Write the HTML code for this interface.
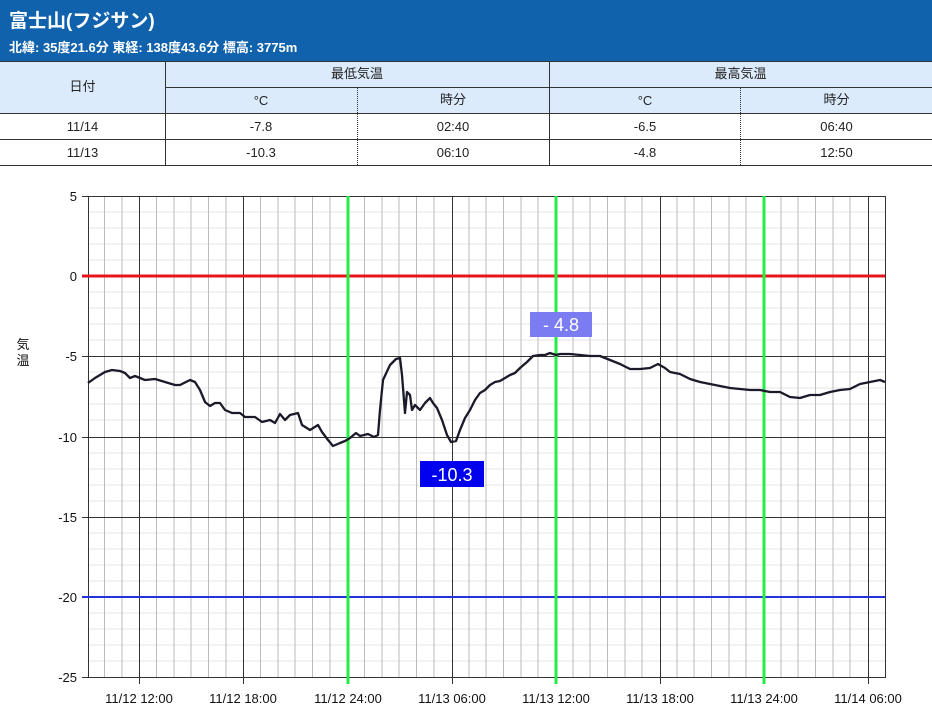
<!DOCTYPE html>
<html><head><meta charset="utf-8"><style>
body{margin:0;width:932px;height:724px;background:#fff;font-family:"Liberation Sans","Noto Sans CJK JP",sans-serif;position:relative;overflow:hidden}
.a{position:absolute}
.hd{left:0;top:0;width:932px;height:61px;background:#1162ad;color:#fff}
.c{position:absolute;text-align:center;font-size:13px;color:#222;box-sizing:border-box;line-height:16px}
.bg{background:#dcebfb}
</style></head><body>
<div class="a hd">
<div class="a" style="left:9px;top:6px;font-size:19px;font-weight:bold">富士山(フジサン)</div>
<div class="a" style="left:9px;top:37px;font-size:13px;font-weight:bold">北緯: 35度21.6分 東経: 138度43.6分 標高: 3775m</div>
</div>
<div class="a bg" style="left:0;top:61px;width:932px;height:52px"></div>
<div class="a" style="left:0;top:61px;width:932px;height:1px;background:#333"></div>
<div class="a" style="left:165px;top:87px;width:767px;height:1px;background:#333"></div>
<div class="a" style="left:0;top:113px;width:932px;height:1px;background:#333"></div>
<div class="a" style="left:0;top:139px;width:932px;height:1px;background:#333"></div>
<div class="a" style="left:0;top:165px;width:932px;height:1px;background:#333"></div>
<div class="a" style="left:165px;top:61px;width:1px;height:104px;background:#333"></div>
<div class="a" style="left:549px;top:61px;width:1px;height:104px;background:#333"></div>
<div class="a" style="left:357px;top:88px;width:0;height:77px;border-left:1px dotted #333"></div>
<div class="a" style="left:740px;top:88px;width:0;height:77px;border-left:1px dotted #333"></div>
<div class="c" style="left:0;top:79px;width:165px">日付</div>
<div class="c" style="left:165px;top:66px;width:384px">最低気温</div>
<div class="c" style="left:549px;top:66px;width:383px">最高気温</div>
<div class="c" style="left:165px;top:93px;width:192px">°C</div>
<div class="c" style="left:357px;top:92px;width:192px">時分</div>
<div class="c" style="left:549px;top:93px;width:192px">°C</div>
<div class="c" style="left:741px;top:92px;width:191px">時分</div>
<div class="c" style="left:0;top:119px;width:165px">11/14</div>
<div class="c" style="left:165px;top:119px;width:192px">-7.8</div>
<div class="c" style="left:357px;top:119px;width:192px">02:40</div>
<div class="c" style="left:549px;top:119px;width:192px">-6.5</div>
<div class="c" style="left:741px;top:119px;width:191px">06:40</div>
<div class="c" style="left:0;top:145px;width:165px">11/13</div>
<div class="c" style="left:165px;top:145px;width:192px">-10.3</div>
<div class="c" style="left:357px;top:145px;width:192px">06:10</div>
<div class="c" style="left:549px;top:145px;width:192px">-4.8</div>
<div class="c" style="left:741px;top:145px;width:191px">12:50</div>

<svg class="a" style="left:0;top:0" width="932" height="724" font-family="Liberation Sans, Noto Sans CJK JP, sans-serif">
<g stroke="#e6e6e6" stroke-width="1">
<line x1="88" x2="885" y1="212" y2="212"/><line x1="88" x2="885" y1="228" y2="228"/><line x1="88" x2="885" y1="244" y2="244"/><line x1="88" x2="885" y1="260" y2="260"/>
<line x1="88" x2="885" y1="292" y2="292"/><line x1="88" x2="885" y1="308" y2="308"/><line x1="88" x2="885" y1="324" y2="324"/><line x1="88" x2="885" y1="340" y2="340"/>
<line x1="88" x2="885" y1="372" y2="372"/><line x1="88" x2="885" y1="388" y2="388"/><line x1="88" x2="885" y1="404" y2="404"/><line x1="88" x2="885" y1="420" y2="420"/>
<line x1="88" x2="885" y1="453" y2="453"/><line x1="88" x2="885" y1="469" y2="469"/><line x1="88" x2="885" y1="485" y2="485"/><line x1="88" x2="885" y1="501" y2="501"/>
<line x1="88" x2="885" y1="533" y2="533"/><line x1="88" x2="885" y1="549" y2="549"/><line x1="88" x2="885" y1="565" y2="565"/><line x1="88" x2="885" y1="581" y2="581"/>
<line x1="88" x2="885" y1="613" y2="613"/><line x1="88" x2="885" y1="629" y2="629"/><line x1="88" x2="885" y1="645" y2="645"/><line x1="88" x2="885" y1="661" y2="661"/>
</g>
<g stroke="#bbb" stroke-width="1">
<line y1="196" y2="678" x1="104.5" x2="104.5"/><line y1="196" y2="678" x1="122" x2="122"/><line y1="196" y2="678" x1="156.5" x2="156.5"/><line y1="196" y2="678" x1="174" x2="174"/><line y1="196" y2="678" x1="191" x2="191"/><line y1="196" y2="678" x1="208.5" x2="208.5"/><line y1="196" y2="678" x1="226" x2="226"/><line y1="196" y2="678" x1="260.5" x2="260.5"/><line y1="196" y2="678" x1="278" x2="278"/><line y1="196" y2="678" x1="295" x2="295"/><line y1="196" y2="678" x1="312.5" x2="312.5"/><line y1="196" y2="678" x1="330" x2="330"/><line y1="196" y2="678" x1="364.5" x2="364.5"/><line y1="196" y2="678" x1="382" x2="382"/><line y1="196" y2="678" x1="399" x2="399"/><line y1="196" y2="678" x1="416.5" x2="416.5"/><line y1="196" y2="678" x1="434" x2="434"/><line y1="196" y2="678" x1="469" x2="469"/><line y1="196" y2="678" x1="486" x2="486"/><line y1="196" y2="678" x1="503.5" x2="503.5"/><line y1="196" y2="678" x1="521" x2="521"/><line y1="196" y2="678" x1="538" x2="538"/><line y1="196" y2="678" x1="573" x2="573"/><line y1="196" y2="678" x1="590" x2="590"/><line y1="196" y2="678" x1="607.5" x2="607.5"/><line y1="196" y2="678" x1="625" x2="625"/><line y1="196" y2="678" x1="642" x2="642"/><line y1="196" y2="678" x1="677" x2="677"/><line y1="196" y2="678" x1="694" x2="694"/><line y1="196" y2="678" x1="711.5" x2="711.5"/><line y1="196" y2="678" x1="729" x2="729"/><line y1="196" y2="678" x1="746" x2="746"/><line y1="196" y2="678" x1="781" x2="781"/><line y1="196" y2="678" x1="798" x2="798"/><line y1="196" y2="678" x1="815.5" x2="815.5"/><line y1="196" y2="678" x1="833" x2="833"/><line y1="196" y2="678" x1="850" x2="850"/>
</g>
<g stroke="#333" stroke-width="1">
<line x1="88" x2="885" y1="196.5" y2="196.5"/><line x1="88" x2="885" y1="356.5" y2="356.5"/><line x1="88" x2="885" y1="437.5" y2="437.5"/><line x1="88" x2="885" y1="517.5" y2="517.5"/><line x1="88" x2="885" y1="677.5" y2="677.5"/>
<line x1="88.5" x2="88.5" y1="196" y2="678"/><line x1="885.5" x2="885.5" y1="196" y2="678"/>
<line x1="139.5" x2="139.5" y1="196" y2="684"/><line x1="243.5" x2="243.5" y1="196" y2="684"/><line x1="452.5" x2="452.5" y1="196" y2="684"/><line x1="660.5" x2="660.5" y1="196" y2="684"/><line x1="868.5" x2="868.5" y1="196" y2="684"/>
<line x1="82" x2="88" y1="196.5" y2="196.5"/><line x1="82" x2="88" y1="356.5" y2="356.5"/><line x1="82" x2="88" y1="437.5" y2="437.5"/><line x1="82" x2="88" y1="517.5" y2="517.5"/><line x1="82" x2="88" y1="677.5" y2="677.5"/>
</g>
<line x1="82" x2="885" y1="276" y2="276" stroke="#e8141a" stroke-width="3"/>
<line x1="82" x2="885" y1="597" y2="597" stroke="#2233dd" stroke-width="2"/>
<g stroke="#22ee44" stroke-width="3">
<line x1="348" x2="348" y1="196" y2="684"/><line x1="556" x2="556" y1="196" y2="684"/><line x1="764" x2="764" y1="196" y2="684"/>
</g>
<polyline fill="none" stroke="#1a1a2a" stroke-width="2.3" stroke-linejoin="round" points="88,383 95,378 105,372 112,370 120,371 125,373 130,378 135,376 140,378 145,380 155,379 165,382 175,385 180,385 190,380 195,382 200,390 205,402 210,406 215,403 220,403 225,410 232,413 240,413 245,417 255,417 262,422 270,420 275,423 280,414 285,420 290,415 298,413 302,425 310,430 318,425 322,432 328,440 333,446 340,443 345,441 350,438 356,433 360,436 368,434 374,437 378,435 380,410 383,380 390,365 396,359 400,358 402,375 405,413 407,392 410,395 412,410 415,405 420,410 425,403 430,398 433,403 437,408 442,420 447,435 451,442 456,441 460,430 465,418 470,410 475,400 480,393 485,390 490,385 495,382 500,381 505,378 510,375 515,373 520,368 527,362 533,356 540,355 545,355 550,353 556,355 560,354 570,354 580,355 590,356 600,356 610,360 620,364 630,369 640,369 650,368 658,364 665,368 670,372 680,374 690,379 700,382 710,384 720,386 730,388 740,389 750,390 760,390 770,392 780,392 790,397 800,398 810,395 820,395 830,392 840,390 850,389 860,384 870,382 880,380 885,382"/>
<rect x="420" y="461" width="64" height="26" fill="#0000ee"/>
<text x="452" y="481" fill="#fff" font-size="18" text-anchor="middle">-10.3</text>
<rect x="530" y="312" width="62" height="25" fill="#7b7bf2"/>
<text x="561" y="331" fill="#fff" font-size="18" text-anchor="middle">- 4.8</text>
<g font-size="13" fill="#111" text-anchor="end">
<text x="77" y="201">5</text><text x="77" y="281">0</text><text x="77" y="361">-5</text><text x="77" y="442">-10</text><text x="77" y="522">-15</text><text x="77" y="602">-20</text><text x="77" y="682">-25</text>
</g>
<text x="23" y="349" font-size="13" fill="#111" text-anchor="middle">気</text>
<text x="23" y="365" font-size="13" fill="#111" text-anchor="middle">温</text>
<g font-size="13" fill="#111" text-anchor="middle">
<text x="139" y="703">11/12 12:00</text><text x="243" y="703">11/12 18:00</text><text x="348" y="703">11/12 24:00</text><text x="452" y="703">11/13 06:00</text><text x="556" y="703">11/13 12:00</text><text x="660" y="703">11/13 18:00</text><text x="764" y="703">11/13 24:00</text><text x="868" y="703">11/14 06:00</text>
</g>
</svg>
</body></html>
